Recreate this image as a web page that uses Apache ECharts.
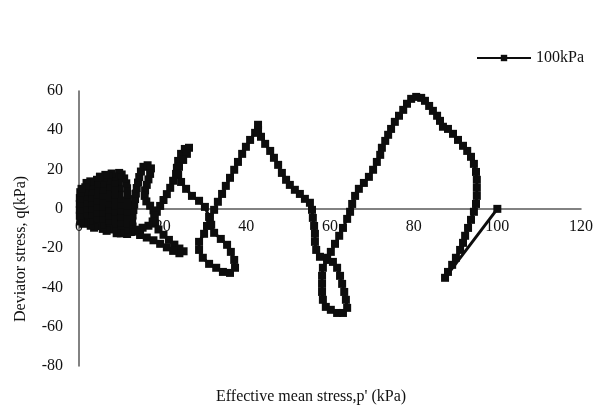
<!DOCTYPE html>
<html>
<head>
<meta charset="utf-8">
<script src="https://cdn.jsdelivr.net/npm/echarts@6/dist/echarts.min.js"></script>
<style>
  html, body { margin: 0; padding: 0; background: #fff; }
  #chart { width: 597px; height: 411px; }
</style>
</head>
<body>
<div id="chart"></div>
<script>
// Stress path of the 100 kPa test: effective mean stress p' (kPa)
const pValues = [
  100, 87.5, 88.2, 89.2, 90.1, 91.1, 91.8, 92.3, 93.0, 93.7, 94.4, 94.9, 95.1, 95.1, 95.1, 94.9, 94.4,
  93.7, 92.8, 91.8, 90.6, 89.4, 88.2, 87.0, 86.3, 85.6, 84.6, 83.7, 82.7, 81.8, 80.6, 79.4, 78.4,
  77.5, 76.5, 75.5, 74.6, 73.9, 73.2, 72.4, 72.0, 71.2, 70.3, 69.3, 68.1, 66.9, 66.0, 65.3, 64.8,
  64.1, 63.1, 62.2, 61.2, 60.2, 59.3, 58.3, 58.1, 58.1, 58.1, 58.3, 59.0, 60.2, 61.7, 63.1, 64.1,
  63.8, 63.4, 62.9, 62.4, 61.7, 60.7, 59.3, 57.6, 56.7, 56.4, 56.4, 56.2, 55.9, 55.7, 55.2, 54.0,
  52.8, 51.6, 50.4, 49.5, 48.5, 47.6, 46.6, 45.7, 44.5, 43.5, 42.8, 42.8, 42.1, 40.9, 39.9, 39.0,
  38.0, 37.1, 36.1, 35.1, 34.2, 33.2, 32.3, 31.3, 30.6, 29.9, 28.7, 28.7, 29.6, 31.1, 32.8, 34.4,
  36.1, 37.3, 37.1, 36.3, 35.4, 33.9, 32.3, 31.6, 31.1, 30.1, 28.7, 27.0, 25.6, 24.4, 23.7, 23.4,
  23.7, 24.4, 25.3, 26.3, 25.8, 24.9, 23.9, 23.2, 22.5, 21.8,
  21.0, 20.2, 19.4, 18.6, 18.1, 18.2, 19.0, 20.2, 21.5, 22.8, 24.0, 25.0, 24.0, 22.5, 21.0, 19.4,
  17.8, 16.2, 14.6, 13.3, 12.8, 12.7, 12.8, 13.0, 13.2, 13.4, 13.6, 13.8, 14.1, 14.4, 14.8, 15.4,
  16.4, 17.2, 17.0, 16.6, 16.2, 15.8, 15.7, 16.1, 17.0, 17.8, 18.0, 17.6, 16.6, 15.2, 13.8, 12.4,
  11.5,
  11.2, 11.2, 11.3, 11.4, 11.5, 11.6, 11.6, 11.5, 11.3, 10.8, 10.2, 9.6,
  9.4, 9.5, 9.6, 9.7, 9.8, 9.8, 9.7, 9.6, 9.6, 9.8, 10.0,
  9.0, 8.3, 8.2, 8.2, 8.2, 8.3, 8.3, 8.4, 8.4, 8.4, 8.3, 7.8,
  7.0, 6.9, 6.9, 6.8, 6.8, 6.8, 6.8, 6.8, 6.9, 7.1, 6.6,
  5.7, 5.4, 5.3, 5.3, 5.4, 5.5, 5.5, 5.6, 5.7, 5.9, 6.3,
  5.0, 4.3, 4.1, 4.0, 4.0, 4.0, 4.0, 4.0, 4.0, 4.2, 3.6,
  2.8, 2.6, 2.6, 2.6, 2.6, 2.6, 2.7, 2.8, 2.7,
  1.8, 1.5, 1.4, 1.3, 1.3, 1.3, 1.3, 1.5, 1.0,
  0.3, 0.2, 0.2, 0.2, 0.2, 0.3, 0.6
];
// Deviator stress q (kPa), same order as pValues
const qValues = [
  0, -35.1, -32.1, -28.5, -24.9, -20.9, -17.3, -13.7, -9.7, -5.6, -1.5, 2.5, 6.6, 10.7, 14.8, 18.8, 22.9,
  26.5, 29.5, 32.1, 35.1, 38.2, 40.7, 41.8, 44.8, 47.4, 49.9, 52.4, 55.0, 56.5, 57.0, 56.0, 53.5,
  50.4, 47.4, 44.3, 40.7, 37.7, 34.6, 31.1, 27.5, 23.9, 19.9, 16.3, 13.2, 10.2, 6.6, 2.5, -1.5,
  -5.1, -9.7, -13.7, -17.8, -21.9, -26.0, -30.0, -34.1, -38.2, -42.3, -46.3, -49.9, -51.4, -53.0, -53.0, -50.4,
  -46.3, -42.3, -38.2, -34.1, -30.0, -27.0, -24.9, -24.4, -20.9, -16.8, -12.7, -8.7, -4.6, -0.5, 3.1, 5.1,
  7.6, 9.7, 12.2, 14.8, 18.3, 22.4, 26.0, 29.5, 33.1, 36.7, 40.2, 42.8, 38.7, 35.1, 31.6, 28.0,
  23.9, 19.9, 15.8, 11.7, 7.6, 3.6, -0.5, -4.6, -8.7, -12.7, -16.8, -20.9, -24.9, -28.0, -30.0, -32.1,
  -32.6, -30.0, -26.0, -21.9, -18.3, -15.3, -12.2, -8.1, -4.1, 1.0, 4.1, 6.6, 10.2, 13.7, 17.3, 20.9,
  24.4, 28.0, 30.5, 31.1, 28.0, 24.9, 21.4, 17.8, 14.3, 10.7,
  7.5, 4.5, 1.5, -1.5, -4.5, -7.5, -10.5, -13.2, -15.8, -18.2, -20.2, -21.6, -22.6, -21.4, -19.6, -17.8,
  -16.0, -14.6, -13.3, -11.6, -9.0, -6.2, -3.4, -0.6, 2.2, 5.0, 7.8, 10.6, 13.4, 16.2, 19.0, 21.4,
  22.2, 20.6, 17.8, 15.0, 12.2, 9.4, 6.6, 3.8, 1.6, -0.8, -3.6, -6.4, -8.6, -9.6, -10.6, -11.8,
  -12.8,
  -10.5, -7.5, -4.5, -1.5, 1.5, 4.5, 7.5, 10.5, 13.0, 15.5, 17.5, 18.3,
  16.0, 13.0, 10.0, 7.0, 4.0, 1.0, -2.0, -5.0, -8.0, -11.0, -12.5,
  -12.4, -10.5, -7.5, -4.5, -1.5, 1.5, 4.5, 7.5, 10.5, 13.5, 16.5, 18.0,
  16.6, 13.5, 10.5, 7.5, 4.5, 1.5, -1.5, -4.5, -7.5, -10.2, -11.2,
  -10.2, -7.8, -5.0, -2.0, 1.0, 4.0, 7.0, 10.0, 13.0, 15.8, 17.3,
  16.4, 14.8, 12.0, 9.0, 6.0, 3.0, 0.0, -3.0, -6.0, -8.8, -9.6,
  -8.6, -6.0, -3.0, 0.0, 3.0, 6.0, 9.0, 12.0, 14.0,
  13.2, 11.0, 8.0, 5.0, 2.0, -1.0, -4.0, -7.0, -7.6,
  -6.4, -3.5, -0.5, 2.5, 5.5, 8.5, 10.2
];
const seriesName = '100kPa';
const xTicks = { min: 0, max: 120, step: 20 };
const yTicks = { min: -80, max: 60, step: 20 };

const FONT = '"Liberation Serif", "Times New Roman", serif';
const path = pValues.map((p, i) => [p, qValues[i]]);

// plot box
const GRID = { left: 79, right: 16, top: 91, bottom: 45 };
const plotHeight = 411 - GRID.top - GRID.bottom;
// lift the p' axis (line and its labels) up to q = 0
const zeroLift = plotHeight * (0 - yTicks.min) / (yTicks.max - yTicks.min);

const chart = echarts.init(document.getElementById('chart'), null, { renderer: 'canvas' });
chart.setOption({
  animation: false,
  backgroundColor: '#ffffff',
  grid: Object.assign({ containLabel: false }, GRID),
  legend: {
    data: [seriesName],
    right: 8, top: 45,
    itemWidth: 54, itemHeight: 8, itemGap: 6,
    textStyle: { fontFamily: FONT, fontSize: 16, color: '#111' }
  },
  xAxis: {
    type: 'value',
    min: xTicks.min, max: xTicks.max, interval: xTicks.step,
    offset: -zeroLift,
    axisLine: { onZero: false, lineStyle: { color: '#595959', width: 1.5 } },
    axisTick: { show: false },
    splitLine: { show: false },
    axisLabel: { fontFamily: FONT, fontSize: 16, color: '#111', margin: 10 }
  },
  yAxis: {
    type: 'value',
    min: yTicks.min, max: yTicks.max, interval: yTicks.step,
    axisLine: { show: true, onZero: false, lineStyle: { color: '#595959', width: 1.5 } },
    axisTick: { show: false },
    splitLine: { show: false },
    axisLabel: { fontFamily: FONT, fontSize: 16, color: '#111', margin: 16 }
  },
  graphic: [
    {
      type: 'text', left: 216, top: 389,
      style: { text: "Effective mean stress,p' (kPa)", font: '16px ' + FONT, fill: '#111' }
    },
    {
      type: 'text', rotation: Math.PI / 2, x: 13, y: 322,
      style: { text: 'Deviator stress, q(kPa)', font: '16px ' + FONT, fill: '#111' }
    }
  ],
  series: [{
    name: seriesName,
    type: 'line',
    data: path,
    showSymbol: true,
    symbol: 'rect',
    symbolSize: 8,
    lineStyle: { color: '#0d0d0d', width: 3 },
    itemStyle: { color: '#0d0d0d' },
    z: 3
  }]
});
</script>
</body>
</html>
